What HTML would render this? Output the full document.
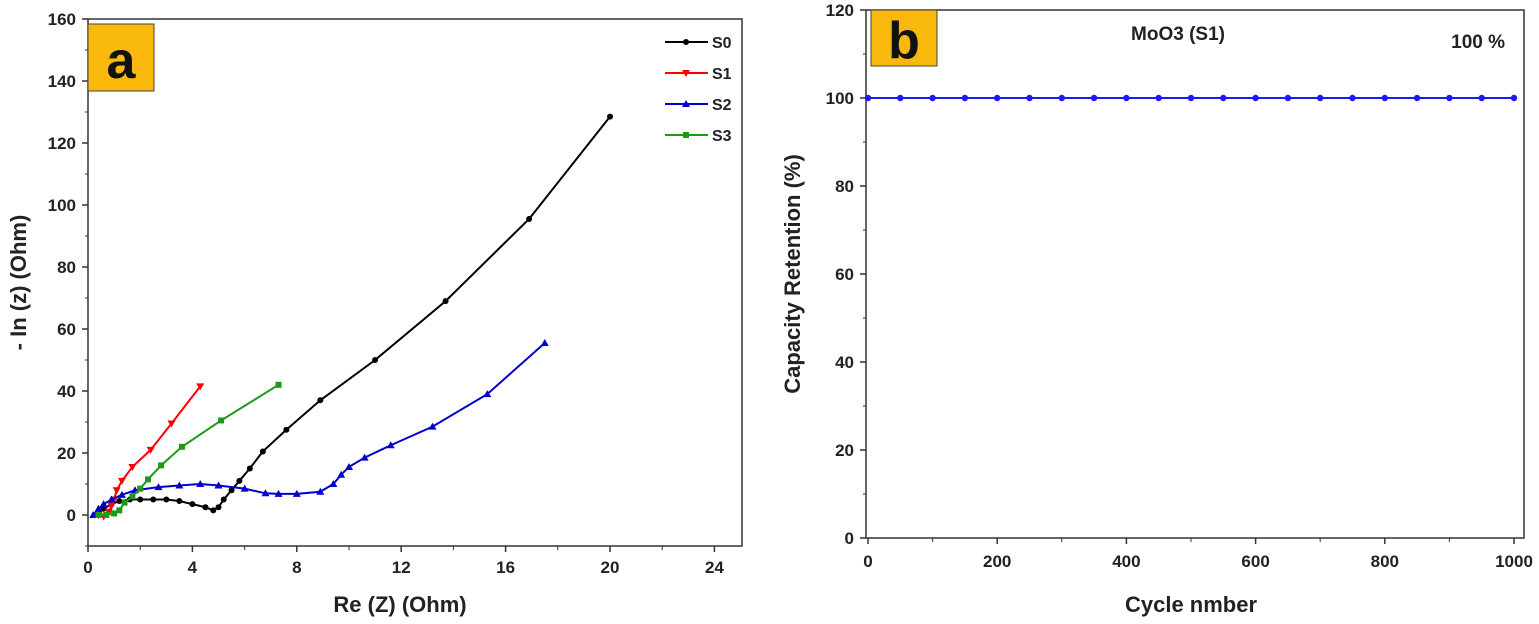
<!DOCTYPE html>
<html><head><meta charset="utf-8"><style>
body{margin:0;background:#fff;}
svg{display:block;font-family:"Liberation Sans",Arial,sans-serif;}
</style></head><body>
<svg id="fig" width="1539" height="624" viewBox="0 0 1539 624"></svg>
<script>
const s0X=[0.3,0.6,0.9,1.2,1.6,2,2.5,3,3.5,4,4.5,4.8,5.0,5.2,5.5,5.8,6.2,6.7,7.6,8.9,11,13.7,16.9,20];
const s0Y=[0,2,3.5,4.5,5,5,5,5,4.5,3.5,2.5,1.5,2.5,5,8,11,15,20.5,27.5,37,50,69,95.5,128.5];
const s1X=[0.4,0.6,0.8,0.9,1.0,1.1,1.3,1.7,2.4,3.2,4.3];
const s1Y=[0,-0.5,1,3,5,8,11,15.5,21,29.5,41.5];
const s2X=[0.2,0.4,0.6,0.9,1.3,1.8,2.7,3.5,4.3,5,6,6.8,7.3,8,8.9,9.4,9.7,10,10.6,11.6,13.2,15.3,17.5];
const s2Y=[0,2,3.5,5,6.5,8,9,9.5,10,9.5,8.5,7,6.8,6.8,7.5,10,13,15.5,18.5,22.5,28.5,39,55.5];
const s3X=[0.4,0.7,1.0,1.2,1.4,1.7,2,2.3,2.8,3.6,5.1,7.3];
const s3Y=[0,0,0.5,1.5,4,6,8.5,11.5,16,22,30.5,42];
const xTicksA=[0,4,8,12,16,20,24];
const yTicksA=[0,20,40,60,80,100,120,140,160];
const cycles=[0,50,100,150,200,250,300,350,400,450,500,550,600,650,700,750,800,850,900,950,1000];
const retention=[100,100,100,100,100,100,100,100,100,100,100,100,100,100,100,100,100,100,100,100,100];
const xTicksB=[0,200,400,600,800,1000];
const yTicksB=[0,20,40,60,80,100,120];

const svg=document.getElementById('fig');
const NS='http://www.w3.org/2000/svg';
function mk(tag,attrs,parent,text){const e=document.createElementNS(NS,tag);for(const k in attrs)e.setAttribute(k,attrs[k]);if(text!==undefined)e.textContent=text;(parent||svg).appendChild(e);return e;}

// Panel A scales
const ax=v=>88+v*26.1, ay=v=>515-v*3.1;
const gA=mk('g',{});


let f=mk('rect',{x:88,y:ay(160),width:742-88,height:ay(-10)-ay(160),fill:'none',stroke:'#333','stroke-width':1.5},gA);

xTicksA.forEach(t=>{mk('line',{x1:ax(t),x2:ax(t),y1:ay(-10),y2:ay(-10)+6,stroke:'#333','stroke-width':1.5},gA);
 if(t<24)mk('line',{x1:ax(t+2),x2:ax(t+2),y1:ay(-10),y2:ay(-10)+4,stroke:'#333','stroke-width':1},gA);
 const l=mk('text',{x:ax(t),y:ay(-10)+27,'text-anchor':'middle','font-size':17,'font-weight':'bold',fill:'#222'},gA,t);
 });
yTicksA.forEach(t=>{mk('line',{x1:82,x2:88,y1:ay(t),y2:ay(t),stroke:'#333','stroke-width':1.5},gA);
 mk('line',{x1:85,x2:88,y1:ay(t-10),y2:ay(t-10),stroke:'#333','stroke-width':1},gA);
 const l=mk('text',{x:76,y:ay(t)+6,'text-anchor':'end','font-size':17,'font-weight':'bold',fill:'#222'},gA,t);
 });
let t=mk('text',{x:400,y:612,'text-anchor':'middle','font-size':22,'font-weight':'bold',fill:'#222'},gA,'Re (Z) (Ohm)');

t=mk('text',{x:0,y:0,'text-anchor':'middle','font-size':22,'font-weight':'bold',fill:'#222',transform:'translate(26,'+ay(75)+') rotate(-90)'},gA,'- In (z) (Ohm)');

let b=mk('rect',{x:88,y:24,width:66,height:67,fill:'#f8b80c',stroke:'#444','stroke-width':1},gA);

t=mk('text',{x:121,y:78,'text-anchor':'middle','font-size':52,'font-weight':'bold',fill:'#111'},gA,'a');


function marker(g,type,x,y,c){
 if(type==='circle')return mk('circle',{cx:x,cy:y,r:3,fill:c},g);
 if(type==='down')return mk('polygon',{points:`${x-4},${y-3} ${x+4},${y-3} ${x},${y+4}`,fill:c},g);
 if(type==='up')return mk('polygon',{points:`${x-4},${y+3} ${x+4},${y+3} ${x},${y-4}`,fill:c},g);
 return mk('rect',{x:x-3,y:y-3,width:6,height:6,fill:c},g);
}
const series=[['S0',s0X,s0Y,'#000','circle'],['S1',s1X,s1Y,'#f00','down'],['S2',s2X,s2Y,'#00c','up'],['S3',s3X,s3Y,'#1a9a1a','square']];
series.forEach(([n,X,Y,c,m],i)=>{
 const g=mk('g',{},gA);
 
 
 mk('polyline',{points:X.map((x,j)=>ax(x)+','+ay(Y[j])).join(' '),fill:'none',stroke:c,'stroke-width':2},g);
 X.forEach((x,j)=>marker(g,m,ax(x),ay(Y[j]),c));
 const lg=mk('g',{},gA);
 
 
 const ly=42+i*31;
 mk('line',{x1:665,x2:708,y1:ly,y2:ly,stroke:c,'stroke-width':2},lg);
 marker(lg,m,686,ly,c);
 mk('text',{x:712,y:ly+6,'font-size':16,'font-weight':'bold',fill:'#222'},lg,n);
});

// Panel B
const bx=v=>868+v*0.646, by=v=>538-v*4.4;
const gB=mk('g',{});


f=mk('rect',{x:866,y:by(120),width:1524-866,height:by(0)-by(120),fill:'none',stroke:'#333','stroke-width':1.5},gB);

xTicksB.forEach(v=>{mk('line',{x1:bx(v),x2:bx(v),y1:538,y2:544,stroke:'#333','stroke-width':1.5},gB);
 if(v<1000)mk('line',{x1:bx(v+100),x2:bx(v+100),y1:538,y2:542,stroke:'#333','stroke-width':1},gB);
 const l=mk('text',{x:bx(v),y:567,'text-anchor':'middle','font-size':17,'font-weight':'bold',fill:'#222'},gB,v);
 });
yTicksB.forEach(v=>{mk('line',{x1:860,x2:866,y1:by(v),y2:by(v),stroke:'#333','stroke-width':1.5},gB);
 if(v<120)mk('line',{x1:863,x2:866,y1:by(v+10),y2:by(v+10),stroke:'#333','stroke-width':1},gB);
 const l=mk('text',{x:854,y:by(v)+6,'text-anchor':'end','font-size':17,'font-weight':'bold',fill:'#222'},gB,v);
 });
t=mk('text',{x:bx(500),y:612,'text-anchor':'middle','font-size':22,'font-weight':'bold',fill:'#222'},gB,'Cycle nmber');

t=mk('text',{x:0,y:0,'text-anchor':'middle','font-size':22,'font-weight':'bold',fill:'#222',transform:'translate(800,'+by(60)+') rotate(-90)'},gB,'Capacity Retention (%)');

b=mk('rect',{x:871,y:10,width:66,height:56,fill:'#f8b80c',stroke:'#444','stroke-width':1},gB);

t=mk('text',{x:904,y:58,'text-anchor':'middle','font-size':52,'font-weight':'bold',fill:'#111'},gB,'b');

t=mk('text',{x:1178,y:40,'text-anchor':'middle','font-size':19,'font-weight':'bold',fill:'#222'},gB,'MoO3 (S1)');

t=mk('text',{x:1505,y:48,'text-anchor':'end','font-size':19,'font-weight':'bold',fill:'#222'},gB,'100 %');

const gr=mk('g',{},gB);


mk('polyline',{points:cycles.map((c,j)=>bx(c)+','+by(retention[j])).join(' '),fill:'none',stroke:'#1a1aff','stroke-width':2},gr);
cycles.forEach((c,j)=>mk('circle',{cx:bx(c),cy:by(retention[j]),r:3.2,fill:'#1a1aff'},gr));
</script>
</body></html>
